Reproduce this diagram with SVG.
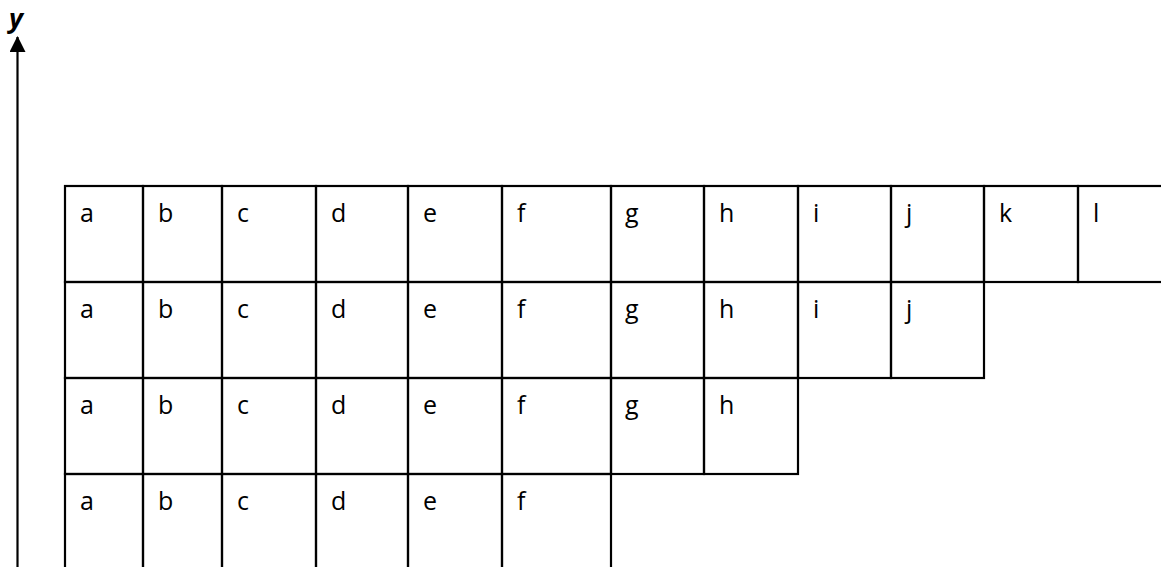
<svg xmlns="http://www.w3.org/2000/svg" width="1161" height="567" viewBox="0 0 1161 567">
<style>
.c rect{fill:none;stroke:#000;stroke-width:2.2}
.c text{font-family:"Open Sans","Liberation Sans",sans-serif;font-size:25px;fill:#000}
.ax{stroke:#000;stroke-width:2.2;fill:none}
.lbl{font-family:"Open Sans","Liberation Sans",sans-serif;font-size:27px;font-weight:bold;font-style:italic;fill:#000}
</style>
<defs>
<marker id="ah" viewBox="0 0 16 16" refX="15" refY="8" markerWidth="16" markerHeight="16" markerUnits="userSpaceOnUse" orient="auto">
<path d="M0,0 L16,8 L0,16 Z" fill="#000"/>
</marker>
</defs>
<rect width="1161" height="567" fill="#fff"/>
<g id="connectors">
<line class="ax" x1="17.5" y1="567" x2="17.5" y2="37" marker-end="url(#ah)"/>
</g>
<g id="axis-label"><text class="lbl" x="9" y="28">y</text></g>
<g id="row1" class="c">
<g id="r1a"><rect x="65" y="186" width="78" height="96"/><text x="80" y="222">a</text></g>
<g id="r1b"><rect x="143" y="186" width="79" height="96"/><text x="158" y="222">b</text></g>
<g id="r1c"><rect x="222" y="186" width="94" height="96"/><text x="237" y="222">c</text></g>
<g id="r1d"><rect x="316" y="186" width="92" height="96"/><text x="331" y="222">d</text></g>
<g id="r1e"><rect x="408" y="186" width="94" height="96"/><text x="423" y="222">e</text></g>
<g id="r1f"><rect x="502" y="186" width="109" height="96"/><text x="517" y="222">f</text></g>
<g id="r1g"><rect x="611" y="186" width="93" height="96"/><text x="625" y="222">g</text></g>
<g id="r1h"><rect x="704" y="186" width="94" height="96"/><text x="719" y="222">h</text></g>
<g id="r1i"><rect x="798" y="186" width="93" height="96"/><text x="813" y="222">i</text></g>
<g id="r1j"><rect x="891" y="186" width="93" height="96"/><text x="906" y="222">j</text></g>
<g id="r1k"><rect x="984" y="186" width="94" height="96"/><text x="999" y="222">k</text></g>
<g id="r1l"><rect x="1078" y="186" width="100" height="96"/><text x="1093" y="222">l</text></g>
</g>
<g id="row2" class="c">
<g id="r2a"><rect x="65" y="282" width="78" height="96"/><text x="80" y="318">a</text></g>
<g id="r2b"><rect x="143" y="282" width="79" height="96"/><text x="158" y="318">b</text></g>
<g id="r2c"><rect x="222" y="282" width="94" height="96"/><text x="237" y="318">c</text></g>
<g id="r2d"><rect x="316" y="282" width="92" height="96"/><text x="331" y="318">d</text></g>
<g id="r2e"><rect x="408" y="282" width="94" height="96"/><text x="423" y="318">e</text></g>
<g id="r2f"><rect x="502" y="282" width="109" height="96"/><text x="517" y="318">f</text></g>
<g id="r2g"><rect x="611" y="282" width="93" height="96"/><text x="625" y="318">g</text></g>
<g id="r2h"><rect x="704" y="282" width="94" height="96"/><text x="719" y="318">h</text></g>
<g id="r2i"><rect x="798" y="282" width="93" height="96"/><text x="813" y="318">i</text></g>
<g id="r2j"><rect x="891" y="282" width="93" height="96"/><text x="906" y="318">j</text></g>
</g>
<g id="row3" class="c">
<g id="r3a"><rect x="65" y="378" width="78" height="96"/><text x="80" y="414">a</text></g>
<g id="r3b"><rect x="143" y="378" width="79" height="96"/><text x="158" y="414">b</text></g>
<g id="r3c"><rect x="222" y="378" width="94" height="96"/><text x="237" y="414">c</text></g>
<g id="r3d"><rect x="316" y="378" width="92" height="96"/><text x="331" y="414">d</text></g>
<g id="r3e"><rect x="408" y="378" width="94" height="96"/><text x="423" y="414">e</text></g>
<g id="r3f"><rect x="502" y="378" width="109" height="96"/><text x="517" y="414">f</text></g>
<g id="r3g"><rect x="611" y="378" width="93" height="96"/><text x="625" y="414">g</text></g>
<g id="r3h"><rect x="704" y="378" width="94" height="96"/><text x="719" y="414">h</text></g>
</g>
<g id="row4" class="c">
<g id="r4a"><rect x="65" y="474" width="78" height="110"/><text x="80" y="510">a</text></g>
<g id="r4b"><rect x="143" y="474" width="79" height="110"/><text x="158" y="510">b</text></g>
<g id="r4c"><rect x="222" y="474" width="94" height="110"/><text x="237" y="510">c</text></g>
<g id="r4d"><rect x="316" y="474" width="92" height="110"/><text x="331" y="510">d</text></g>
<g id="r4e"><rect x="408" y="474" width="94" height="110"/><text x="423" y="510">e</text></g>
<g id="r4f"><rect x="502" y="474" width="109" height="110"/><text x="517" y="510">f</text></g>
</g>
</svg>
